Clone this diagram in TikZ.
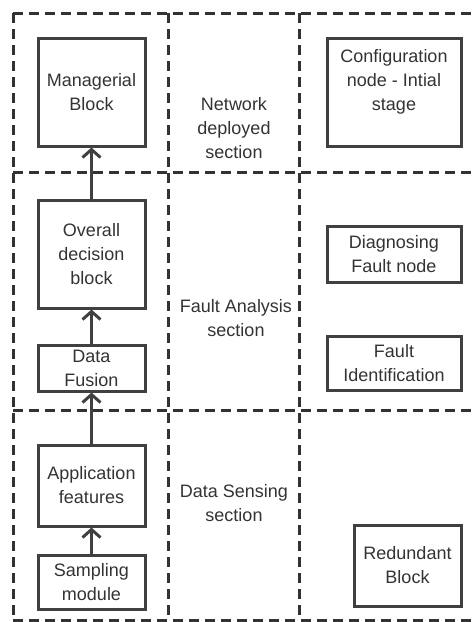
\documentclass[tikz,border=0pt]{standalone}
\usepackage{fontspec}
\setmainfont{Liberation Sans}
\usetikzlibrary{positioning,arrows.meta}

\begin{document}
\begin{tikzpicture}[x=1pt,y=-1pt,node distance=51pt,
		font=\fontsize{18}{24}\selectfont,
		block/.style={draw=black!75,line width=3pt,align=center,text=black!80,minimum width=107pt,inner sep=2pt},
		wideblock/.style={block,minimum width=134pt},
		gridline/.style={draw=black!80,line width=3pt,dash pattern=on 10pt off 6pt},
		section/.style={align=center,text=black!80},
		flow/.style={->,draw=black!75,line width=3pt},
		>={Straight Barb[length=8pt,width=18pt]}]
			\useasboundingbox (0,0) rectangle (475,622);
			% dashed section grid
			\foreach \y in {13,172,410,620}
				\draw[gridline] (13,\y) -- (475,\y);
			\foreach \x in {13,168,299}
				\draw[gridline] (\x,13) -- (\x,620);
			% left column
			\node[block,minimum height=108pt] (mgr) at (91.5,92) {Managerial\\Block};
			\node[block,minimum height=108pt] (odb) [below=of mgr] {Overall\\decision\\block};
			\node[block,minimum height=46pt] (fus) [below=34pt of odb] {Data\\Fusion};
			\node[block,minimum height=81pt] (app) [below=of fus] {Application\\features};
			\node[block,minimum height=54pt] (sam) [below=26pt of app] {Sampling\\module};
			% right column
			\node[wideblock,minimum height=108pt] (cfg) [right=179pt of mgr] {Configuration\\node - Intial\\stage\\\mbox{}};
			\node[wideblock,minimum height=56pt] (dfn) [right=179pt of odb] {Diagnosing\\Fault node};
			\node[wideblock,minimum height=54pt] (fid) [below=of dfn] {Fault\\Identification};
			\node[block,minimum height=81pt] (red) [below=132pt of fid.south east,anchor=north east] {Redundant\\Block};
			% section names
			\node[section] (net) at (234,128) {Network\\deployed\\section};
			\node[section] (fas) at (236,318) {Fault Analysis\\section};
			\node[section] (dss) at (234,503) {Data Sensing\\section};
			\path[flow]
				(sam) edge (app)
				(app) edge (fus)
				(fus) edge (odb)
				(odb) edge (mgr);
		\end{tikzpicture}
\end{document}
